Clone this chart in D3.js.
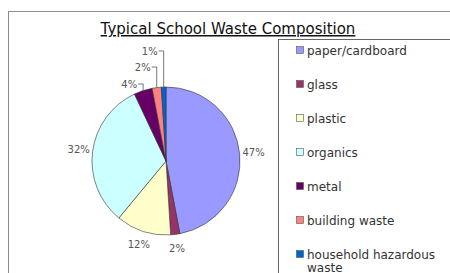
<!DOCTYPE html>
<html>
<head>
<meta charset="utf-8">
<script src="https://cdn.jsdelivr.net/npm/d3@7"></script>
<style>
  body { margin: 0; background: #fff; }
  svg { display: block; font-family: "DejaVu Sans", Verdana, sans-serif; }
</style>
</head>
<body>
<div id="chart-area"></div>
<script>
const WIDTH = 450;
const HEIGHT = 273;

// data
const categories = ["paper/cardboard", "glass", "plastic", "organics", "metal", "building waste", "household hazardous waste"];
const values = [47, 2, 12, 32, 4, 2, 1];
const colors = ["#9999ff", "#993366", "#ffffcc", "#ccffff", "#660066", "#ff8080", "#0066cc"];
const legendLines = [["paper/cardboard"], ["glass"], ["plastic"], ["organics"], ["metal"], ["building waste"], ["household hazardous", "waste"]];
// slices whose labels sit above the pie with a leader line (label height above centre)
const leaderRise = { 4: 77, 5: 94, 6: 110 };

const svg = d3.select("#chart-area").append("svg")
  .attr("width", WIDTH)
  .attr("height", HEIGHT);

// outer chart frame
svg.append("rect")
  .attr("x", 8.5).attr("y", 11.5)
  .attr("width", 460).attr("height", 280)
  .attr("fill", "none")
  .attr("stroke", "#8c8c8c");

svg.append("text")
  .attr("x", 228)
  .attr("y", 34)
  .attr("text-anchor", "middle")
  .attr("font-size", "15px")
  .attr("fill", "#111")
  .style("text-decoration", "underline")
  .text("Typical School Waste Composition");

// pie
const cx = 166, cy = 161, R = 74;
const g = svg.append("g").attr("transform", `translate(${cx},${cy})`);

const pie = d3.pie().sort(null).value(d => d);
const arcs = pie(values);
const arc = d3.arc().innerRadius(0).outerRadius(R);
const labelArc = d3.arc().innerRadius(R + 14).outerRadius(R + 14);

g.selectAll("path")
  .data(arcs)
  .enter().append("path")
  .attr("d", arc)
  .attr("fill", (d, i) => colors[i])
  .attr("stroke", "#333")
  .attr("stroke-width", 0.6);

arcs.forEach((d, i) => {
  const mid = (d.startAngle + d.endAngle) / 2;
  const label = values[i] + "%";
  if (leaderRise[i] !== undefined) {
    const ex = R * Math.sin(mid);
    const ey = -R * Math.cos(mid);
    const ly = -leaderRise[i];
    g.append("path")
      .attr("d", `M${ex - 5},${ly} H${ex} V${ey}`)
      .attr("fill", "none")
      .attr("stroke", "#555")
      .attr("stroke-width", 0.8);
    g.append("text")
      .attr("x", ex - 6)
      .attr("y", ly + 3.5)
      .attr("text-anchor", "end")
      .attr("font-size", "10px")
      .attr("fill", "#555")
      .text(label);
  } else {
    const [lx, ly] = labelArc.centroid(d);
    g.append("text")
      .attr("x", lx)
      .attr("y", ly + 3.5)
      .attr("text-anchor", "middle")
      .attr("font-size", "10px")
      .attr("fill", "#555")
      .text(label);
  }
});

// legend
svg.append("rect")
  .attr("x", 278.5).attr("y", 39.5)
  .attr("width", 200).attr("height", 260)
  .attr("fill", "none")
  .attr("stroke", "#666");

const legend = svg.append("g").attr("transform", "translate(296,50)");
categories.forEach((c, i) => {
  const row = legend.append("g").attr("transform", `translate(0,${i * 34})`);
  row.append("rect")
    .attr("x", 0.5).attr("y", -3.5)
    .attr("width", 7).attr("height", 7)
    .attr("fill", colors[i])
    .attr("stroke", "#555")
    .attr("stroke-width", 0.6);
  legendLines[i].forEach((line, j) => {
    row.append("text")
      .attr("x", 11)
      .attr("y", 4.5 + j * 13.5)
      .attr("font-size", "12px")
      .attr("fill", "#333")
      .text(line);
  });
});
</script>
</body>
</html>
